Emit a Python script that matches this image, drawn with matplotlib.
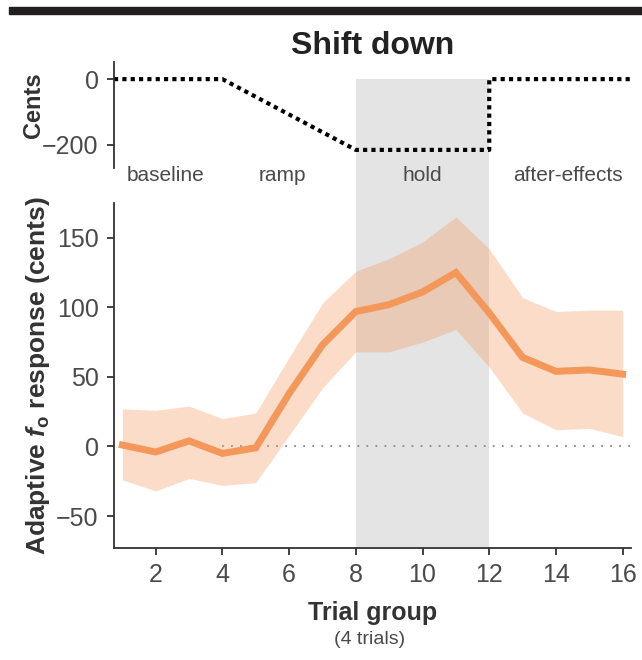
import matplotlib
matplotlib.use("Agg")
import matplotlib.pyplot as plt
from matplotlib.patches import Rectangle
from matplotlib.transforms import blended_transform_factory
import numpy as np

plt.rcParams['font.family'] = ['Liberation Sans', 'DejaVu Sans']
plt.rcParams['mathtext.fontset'] = 'custom'
plt.rcParams['mathtext.it'] = 'Liberation Sans:bold:italic'
plt.rcParams['mathtext.rm'] = 'Liberation Sans:bold'

# top panel: pitch shift schedule (cents)
shift_x = [0.75, 4, 8, 12, 12, 16.25]
shift_cents = [0, 0, -215, -215, 0, 0]
phase_names = ['baseline', 'ramp', 'hold', 'after-effects']
phase_pos = [2.3, 5.8, 10.0, 14.35]

# bottom panel: adaptive response per trial group
trial_group = np.arange(1, 17)
response_mean = [1, -4, 4, -5, -1, 38, 73, 97, 102, 111, 125, 96, 64, 54, 55, 52]
response_upper = [27, 26, 29, 20, 24, 64, 103, 126, 135, 147, 165, 142, 107, 97, 98, 98]
response_lower = [-24, -32, -23, -28, -26, 8, 42, 68, 68, 75, 84, 57, 24, 12, 13, 7]

hold_start, hold_end = 8, 12
orange = '#f4975a'
grey_txt = '#4a4a4a'
dark = '#333333'

fig = plt.figure(figsize=(6.42, 6.6), dpi=100)
ax = fig.add_axes([114/642, 1-548/660, (631-114)/642, (548-203)/660])
ax_top = fig.add_axes([114/642, 1-168/660, (631-114)/642, (168-62)/660])
ax_top.patch.set_visible(False)

# black bar at the very top
fig.patches.append(Rectangle((9/642, 1-14/660), 1, 7/660, transform=fig.transFigure,
                             color='#231f20', zorder=10))

# bottom panel
ax.set_xlim(0.75, 16.25)
ax.set_ylim(-73, 175)
ax.hlines(0, 4, 16.25, colors='#888888', linestyles=(0, (1, 4)), lw=1.3, zorder=1)
ax.fill_between(trial_group, response_lower, response_upper, color=orange, alpha=0.33,
                lw=0, zorder=2)
ax.plot(trial_group, response_mean, color=orange, lw=5, zorder=3, solid_joinstyle='miter')

ax_top.set_xlim(0.75, 16.25)
ax_top.set_ylim(-270, 52)

# grey hold region spanning both panels
fig.canvas.draw()
y_top_disp = ax_top.transData.transform((0, 0))[1]
y_bot_disp = ax.transAxes.transform((0, 0))[1]
y_top = fig.transFigure.inverted().transform((0, y_top_disp))[1]
y_bot = fig.transFigure.inverted().transform((0, y_bot_disp))[1]
tr = blended_transform_factory(ax.transData, fig.transFigure)
ax.add_patch(Rectangle((hold_start, y_bot), hold_end - hold_start, y_top - y_bot,
                       transform=tr, facecolor='#e4e4e4', edgecolor='none',
                       clip_on=False, zorder=0))

ax.set_xticks([2, 4, 6, 8, 10, 12, 14, 16])
ax.set_yticks([-50, 0, 50, 100, 150])
ax.set_yticklabels(['\u221250', '0', '50', '100', '150'])
for s in ['top', 'right']:
    ax.spines[s].set_visible(False)
for s in ['left', 'bottom']:
    ax.spines[s].set_color(dark)
    ax.spines[s].set_linewidth(1.3)
ax.tick_params(direction='out', length=5, width=1.3, color=dark, labelsize=18,
               labelcolor=grey_txt, pad=6)
ax.set_ylabel(r'Adaptive $f_\mathrm{o}$ response (cents)', fontsize=19,
              fontweight='bold', color=dark, labelpad=3)
ax.set_xlabel('Trial group', fontsize=18, fontweight='bold', color=dark, labelpad=10)
fig.text(ax.get_position().x0 + ax.get_position().width/2 - 0.005, 1-639/660,
         '(4 trials)', ha='center', va='center', fontsize=14, color=grey_txt)

# top panel
ax_top.plot(shift_x, shift_cents, color='black', lw=3, linestyle=(0, (1, 1)),
            solid_capstyle='butt', dash_capstyle='butt')
ax_top.set_yticks([-200, 0])
ax_top.set_yticklabels(['\u2212200', '0'])
ax_top.set_xticks([])
for s in ['top', 'right', 'bottom']:
    ax_top.spines[s].set_visible(False)
ax_top.spines['left'].set_color(dark)
ax_top.spines['left'].set_linewidth(1.3)
ax_top.tick_params(direction='out', length=5, width=1.3, color=dark, labelsize=18,
                   labelcolor=grey_txt, pad=6)
ax_top.set_ylabel('Cents', fontsize=17, fontweight='bold', color=dark)
ax_top.yaxis.set_label_coords(-0.133, 0.59)
ax_top.set_title('Shift down', fontsize=23, fontweight='bold', color='#222222', pad=6)
ptr = blended_transform_factory(ax_top.transData, ax_top.transAxes)
for name, xp in zip(phase_names, phase_pos):
    ax_top.text(xp, -0.07, name, transform=ptr, ha='center', va='center',
                fontsize=15, color=grey_txt)

fig.savefig('out.png', dpi=100)
